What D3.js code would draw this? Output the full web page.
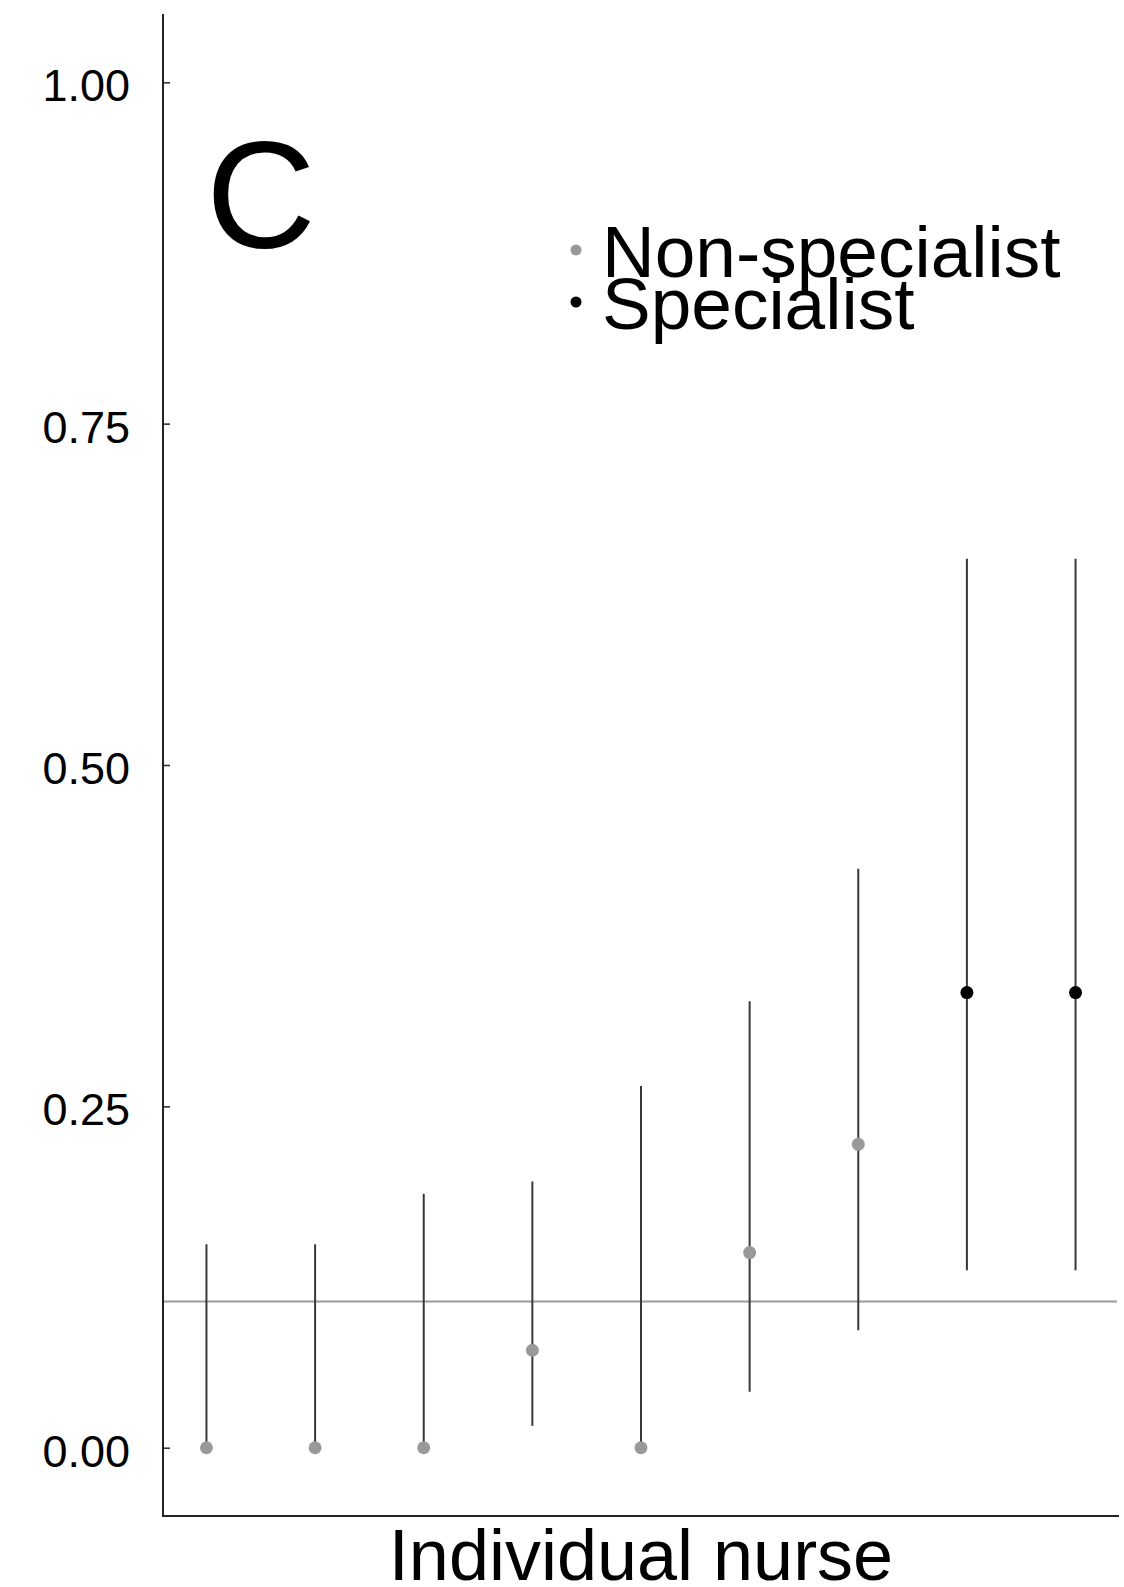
<!DOCTYPE html>
<html>
<head>
<meta charset="utf-8">
<script src="https://cdn.jsdelivr.net/npm/d3@7"></script>
<style>
  html, body { margin: 0; padding: 0; background: #fff; }
  svg { display: block; font-family: "Liberation Sans", Arial, sans-serif; }
</style>
</head>
<body>
<svg id="chart" width="1124" height="1587"></svg>
<script>
// ---- data ----
const nurses = ["1", "2", "3", "4", "5", "6", "7", "8", "9"];
const groups = ["Non-specialist", "Non-specialist", "Non-specialist", "Non-specialist", "Non-specialist",
                "Non-specialist", "Non-specialist", "Specialist", "Specialist"];
const estimate = [0, 0, 0, 0.0714, 0, 0.1429, 0.2222, 0.3333, 0.3333];
const lower    = [0, 0, 0, 0.016, 0, 0.041, 0.086, 0.130, 0.130];
const upper    = [0.149, 0.149, 0.186, 0.195, 0.265, 0.327, 0.424, 0.651, 0.651];
const overall  = 0.107;
const yTicks   = [0, 0.25, 0.5, 0.75, 1];
const legendLabels = ["Non-specialist", "Specialist"];
const panelLabel = "C";
const xTitle = "Individual nurse";

// ---- layout ----
const pL = 163, pR = 1119, pT = 14, pB = 1516;
const svg = d3.select("#chart");

const x = d3.scalePoint().domain(nurses).range([pL, pR]).padding(0.4);
const y = d3.scaleLinear().domain([-0.05, 1.05]).range([pB, pT]);
const color = d3.scaleOrdinal().domain(legendLabels).range(["#999999", "#000000"]);

const data = nurses.map((n, i) => ({ n, g: groups[i], est: estimate[i], lo: lower[i], hi: upper[i] }));

// reference line
svg.append("line")
  .attr("x1", pL).attr("x2", pR - 2)
  .attr("y1", y(overall)).attr("y2", y(overall))
  .attr("stroke", "#9a9a9a").attr("stroke-width", 2);

// error bars
svg.append("g").selectAll("line").data(data).join("line")
  .attr("x1", d => x(d.n)).attr("x2", d => x(d.n))
  .attr("y1", d => y(d.lo)).attr("y2", d => y(d.hi))
  .attr("stroke", "#383838").attr("stroke-width", 2);

// points
svg.append("g").selectAll("circle").data(data).join("circle")
  .attr("cx", d => x(d.n)).attr("cy", d => y(d.est))
  .attr("r", 6.5)
  .attr("fill", d => color(d.g));

// y axis
const yAxis = d3.axisLeft(y).tickValues(yTicks).tickFormat(d3.format(".2f")).tickSize(-7).tickPadding(0);
const gy = svg.append("g").attr("transform", `translate(${pL},0)`).call(yAxis);
gy.select(".domain").remove();
gy.selectAll(".tick line").attr("stroke", "#333").attr("stroke-width", 1.6);
gy.selectAll(".tick text")
  .attr("x", -33).attr("dy", "0.41em")
  .attr("font-size", 45).attr("fill", "#000")
  .attr("font-family", "Liberation Sans, Arial, sans-serif");

// axis lines
svg.append("line").attr("x1", pL).attr("x2", pL).attr("y1", pT).attr("y2", pB + 1)
  .attr("stroke", "#222").attr("stroke-width", 2);
svg.append("line").attr("x1", pL).attr("x2", pR).attr("y1", pB).attr("y2", pB)
  .attr("stroke", "#222").attr("stroke-width", 2);

// panel label
svg.append("text").attr("x", 206).attr("y", 248)
  .attr("font-size", 152).attr("fill", "#000").text(panelLabel);

// legend
const leg = svg.append("g");
const legY = [277, 329];
legendLabels.forEach((lab, i) => {
  leg.append("circle").attr("cx", 576).attr("cy", legY[i] - 27).attr("r", 5.5).attr("fill", color(lab));
  leg.append("text").attr("x", 602).attr("y", legY[i])
    .attr("font-size", 73).attr("fill", "#000").text(lab);
});

// x title
svg.append("text").attr("x", (pL + pR) / 2).attr("y", 1580)
  .attr("text-anchor", "middle").attr("font-size", 72).attr("fill", "#000").text(xTitle);
</script>
</body>
</html>
